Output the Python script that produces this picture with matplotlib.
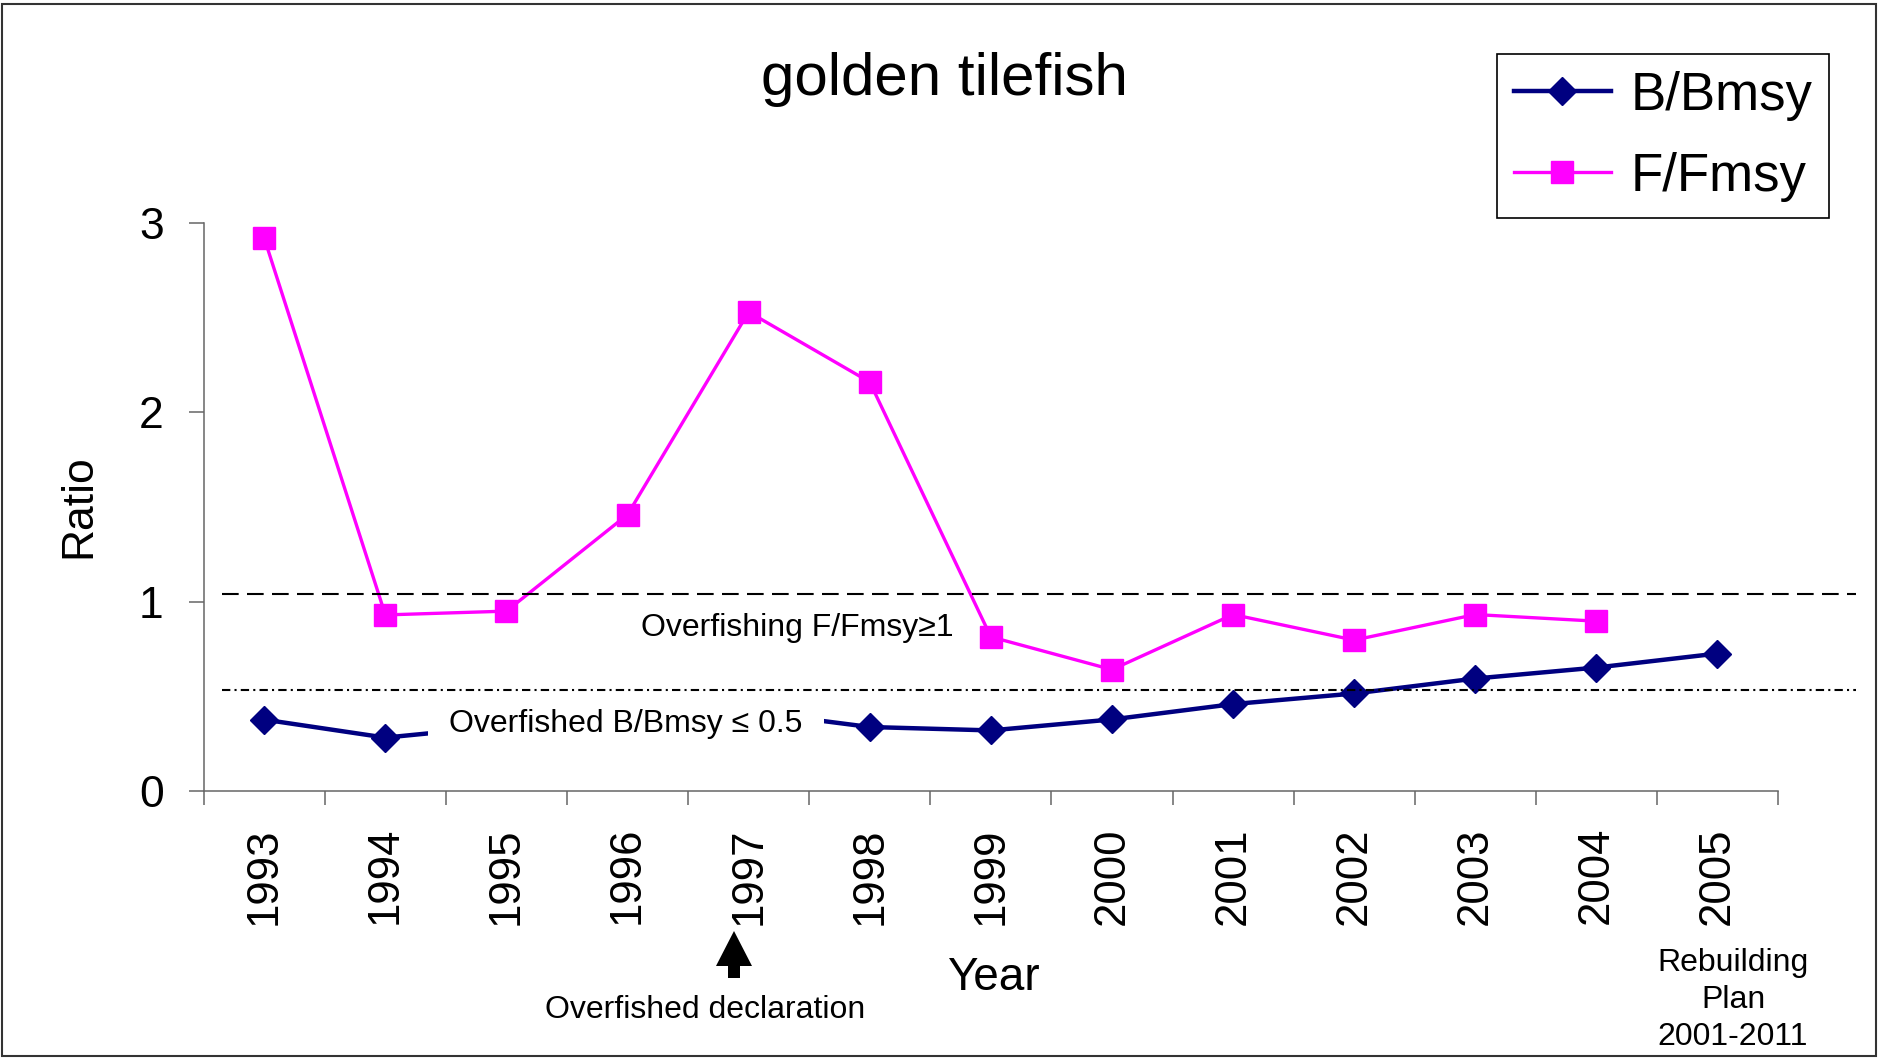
import numpy as np
import matplotlib.pyplot as plt
from matplotlib.patches import FancyArrow, Rectangle
from matplotlib.transforms import IdentityTransform

# ---------------------------------------------------------------
# Datos
# ---------------------------------------------------------------
years = ['1993', '1994', '1995', '1996', '1997', '1998', '1999',
         '2000', '2001', '2002', '2003', '2004', '2005']
b_bmsy = [0.377, 0.282, 0.345, 0.38, 0.42, 0.338, 0.32,
          0.378, 0.459, 0.515, 0.594, 0.652, 0.726]
f_fmsy = [2.92, 0.93, 0.95, 1.46, 2.53, 2.16, 0.814,
          0.641, 0.932, 0.797, 0.932, 0.897, np.nan]
y_ticks = [0, 1, 2, 3]

# líneas de referencia (dibujadas a mano en el original, algo desplazadas)
overfishing_level = 1.043
overfished_level = 0.533

plt.rcParams['font.family'] = ['Liberation Sans', 'DejaVu Sans']

W, H = 1879, 1058
navy = '#000080'
magenta = '#FF00FF'
axis_grey = '#666666'

fig = plt.figure(figsize=(W / 100, H / 100), dpi=100)
fig.patch.set_facecolor('white')
ax = fig.add_axes([203.7 / W, 267 / H, 1574.3 / W, 568 / H])

x = np.arange(len(years))
ax.plot(x, b_bmsy, color=navy, lw=3.2, marker='D', ms=14, mfc=navy, mec=navy,
        label='B/Bmsy', zorder=2, clip_on=False)
ax.plot(x, f_fmsy, color=magenta, lw=2.4, marker='s', ms=15.5, mfc=magenta,
        mec=magenta, label='F/Fmsy', zorder=2, clip_on=False)

# umbrales
ax.plot([-0.35, 13.14], [overfishing_level] * 2, color='black', lw=1.5,
        dashes=(8, 4), clip_on=False, zorder=4)
ax.plot([-0.35, 13.14], [overfished_level] * 2, color='black', lw=1.5,
        dashes=(4, 2, 1, 2), clip_on=False, zorder=4)

ax.text(4.40, 0.819, 'Overfishing F/Fmsy≥1', fontsize=23, ha='center',
        va='baseline', zorder=5)
ax.text(2.987, 0.312, 'Overfished B/Bmsy ≤ 0.5', fontsize=23, ha='center',
        va='baseline', zorder=3,
        bbox=dict(boxstyle='square,pad=0.68', fc='white', ec='none'))

# ejes
ax.set_xlim(-0.5, 12.5)
ax.set_ylim(0, 3)
ax.set_xticks(np.arange(-0.5, len(years), 1))
ax.set_xticks(x, minor=True)
ax.set_xticklabels(years, minor=True, rotation=90, fontsize=31.5)
ax.tick_params(axis='x', which='major', length=10, width=1.1,
               color=axis_grey, labelbottom=False)
ax.tick_params(axis='x', which='minor', length=0, pad=26)
ax.set_yticks(y_ticks)
ax.tick_params(axis='y', length=10.8, width=1.1, color=axis_grey,
               labelsize=32, pad=18)
for side in ('top', 'right'):
    ax.spines[side].set_visible(False)
for side in ('left', 'bottom'):
    ax.spines[side].set_color(axis_grey)
    ax.spines[side].set_linewidth(1.1)

ax.set_xlabel('Year', fontsize=33, va='baseline')
ax.xaxis.set_label_coords(0.5016, -0.350)
ax.set_ylabel('Ratio', fontsize=32, va='center', ha='center')
ax.yaxis.set_label_coords(-0.0792, 0.502)

fig.text(944 / W, 1 - 95 / H, 'golden tilefish', fontsize=43.3,
         ha='center', va='baseline')

leg = ax.legend(loc='upper right', bbox_to_anchor=(1829 / W, 1 - 54 / H),
                bbox_transform=fig.transFigure, fontsize=38, frameon=True,
                fancybox=False, edgecolor='black', framealpha=1,
                borderaxespad=0, borderpad=0.32, labelspacing=0.58,
                handlelength=1.85, handletextpad=0.36)
leg.get_frame().set_linewidth(1.2)

# anotaciones bajo el eje
arrow = FancyArrow(734, H - 978, 0, 47, width=12, head_width=36,
                   head_length=35, length_includes_head=True,
                   fc='black', ec='none', transform=IdentityTransform())
fig.add_artist(arrow)
fig.text(704.7 / W, 1 - 1018 / H, 'Overfished declaration', fontsize=23,
         ha='center', va='baseline')
fig.text(1733 / W, 1 - 1000 / H, 'Rebuilding\nPlan\n2001-2011', fontsize=23,
         ha='center', va='center', linespacing=1.32, multialignment='center')

# marco de la figura
fig.add_artist(Rectangle((1.5 / W, (H - 1055.5) / H), 1874 / W, 1052 / H,
                         transform=fig.transFigure, fill=False,
                         ec='#333333', lw=1.5))

fig.savefig('out.png', dpi=100, facecolor='white')
